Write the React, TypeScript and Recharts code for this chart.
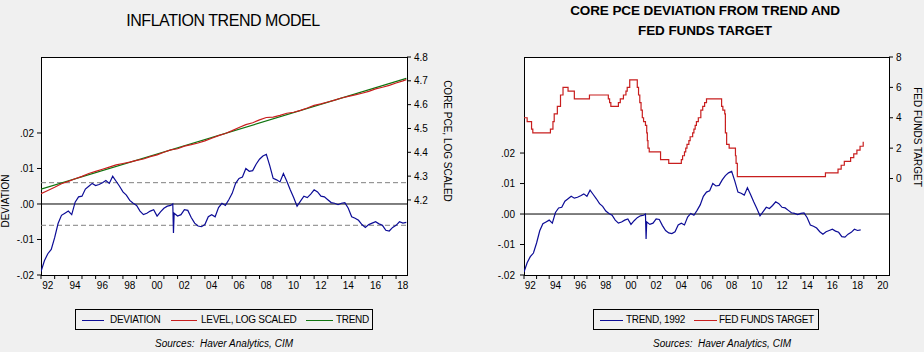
import { LineChart, Line, XAxis, YAxis, ReferenceLine } from 'recharts';

// deviation of core PCE from its 1992 trend (quarterly reading)
const devYears = [
  1992.0, 1992.25, 1992.5, 1992.75, 1993.0, 1993.25, 1993.5, 1993.75,
  1994.0, 1994.25, 1994.5, 1994.75, 1995.0, 1995.25, 1995.5, 1995.75,
  1996.0, 1996.25, 1996.5, 1996.75, 1997.0, 1997.25, 1997.5, 1997.75,
  1998.0, 1998.25, 1998.5, 1998.75, 1999.0, 1999.25, 1999.5, 1999.75,
  2000.0, 2000.25, 2000.5, 2000.75, 2001.0, 2001.25, 2001.5, 2001.65,
  2001.7, 2001.75, 2002.0, 2002.25, 2002.5, 2002.75, 2003.0, 2003.25,
  2003.5, 2003.75, 2004.0, 2004.25, 2004.5, 2004.75, 2005.0, 2005.25,
  2005.5, 2005.75, 2006.0, 2006.25, 2006.5, 2006.75, 2007.0, 2007.25,
  2007.5, 2007.75, 2008.0, 2008.25, 2008.5, 2008.75, 2009.0, 2009.25,
  2009.5, 2009.75, 2010.0, 2010.25, 2010.5, 2010.75, 2011.0, 2011.25,
  2011.5, 2011.75, 2012.0, 2012.25, 2012.5, 2012.75, 2013.0, 2013.25,
  2013.5, 2013.75, 2014.0, 2014.25, 2014.5, 2014.75, 2015.0, 2015.25,
  2015.5, 2015.75, 2016.0, 2016.25, 2016.5, 2016.75, 2017.0, 2017.25,
  2017.5, 2017.75, 2018.0, 2018.25, 2018.5, 2018.75,
];
const devValues = [
  -0.019, -0.016, -0.014, -0.0128, -0.0095, -0.0055, -0.0032, -0.0026,
  -0.002, -0.003, 0.0005, 0.002, 0.0022, 0.0042, 0.005, 0.0058,
  0.0052, 0.0055, 0.006, 0.0066, 0.0058, 0.0078, 0.0064, 0.005,
  0.0034, 0.0025, 0.001, 0.0002, -0.0004, -0.002, -0.003, -0.0026,
  -0.002, -0.0016, -0.0034, -0.0022, -0.0012, -0.0006, -0.0004, 0.0,
  -0.0082, -0.0026, -0.0034, -0.003, -0.0016, -0.0018, -0.0038, -0.0054,
  -0.0062, -0.0064, -0.0058, -0.0036, -0.003, -0.0036, -0.001, 0.0002,
  -0.0004, 0.0012, 0.003, 0.0058, 0.0072, 0.0076, 0.01, 0.0092,
  0.0094, 0.0112, 0.0126, 0.0135, 0.014, 0.0108, 0.0072, 0.0068,
  0.0062, 0.0086, 0.0064, 0.004, 0.0018, -0.0006, 0.0008, 0.0022,
  0.0018, 0.0028, 0.004, 0.0034, 0.0022, 0.002, 0.0012, 0.0004,
  0.0002, -0.0002, 0.0002, 0.0004, -0.0012, -0.0036, -0.004, -0.0046,
  -0.0058, -0.0066, -0.0058, -0.0054, -0.005, -0.0056, -0.006, -0.0074,
  -0.0076, -0.0066, -0.006, -0.005, -0.0054, -0.0052,
];

// core PCE, log scaled
const levelYears = [
  1992.0, 1992.5, 1993.0, 1993.5, 1994.0, 1994.5, 1995.0, 1995.5, 1996.0,
  1996.5, 1997.0, 1997.5, 1998.0, 1998.5, 1999.0, 1999.5, 2000.0, 2000.5,
  2001.0, 2001.5, 2002.0, 2002.5, 2003.0, 2003.5, 2004.0, 2004.5, 2005.0,
  2005.5, 2006.0, 2006.5, 2007.0, 2007.5, 2008.0, 2008.5, 2009.0, 2009.5,
  2010.0, 2010.5, 2011.0, 2011.5, 2012.0, 2012.5, 2013.0, 2013.5, 2014.0,
  2014.5, 2015.0, 2015.5, 2016.0, 2016.5, 2017.0, 2017.5, 2018.0, 2018.5,
  2018.75,
];
const levelValues = [
  4.226, 4.24, 4.253, 4.268, 4.278, 4.289, 4.299, 4.311, 4.32,
  4.329, 4.338, 4.347, 4.353, 4.359, 4.366, 4.372, 4.382, 4.389,
  4.4, 4.41, 4.415, 4.426, 4.432, 4.439, 4.448, 4.459, 4.47,
  4.479, 4.491, 4.504, 4.516, 4.524, 4.536, 4.546, 4.548, 4.555,
  4.564, 4.568, 4.576, 4.586, 4.597, 4.603, 4.611, 4.619, 4.628,
  4.635, 4.641, 4.648, 4.656, 4.666, 4.673, 4.681, 4.691, 4.7,
  4.705,
];

const trendYears = [1992.0, 2018.75];
const trendValues = [4.245, 4.71];

// fed funds target, dates of changes
const fedYears = [
  1992.0, 1992.25, 1992.6, 1992.7, 1994.1, 1994.3, 1994.4, 1994.65, 1994.9,
  1995.1, 1995.5, 1996.0, 1997.2, 1998.7, 1998.8, 1998.9, 1999.5, 1999.65,
  1999.9, 2000.1, 2000.2, 2000.4, 2001.0, 2001.1, 2001.2, 2001.3, 2001.4,
  2001.5, 2001.65, 2001.75, 2001.8, 2001.85, 2001.95, 2002.85, 2003.5, 2004.5,
  2004.6, 2004.75, 2004.85, 2004.95, 2005.1, 2005.2, 2005.4, 2005.5, 2005.6,
  2005.7, 2005.85, 2006.05, 2006.2, 2006.35, 2006.5, 2007.7, 2007.8, 2007.95,
  2008.0, 2008.1, 2008.3, 2008.8, 2008.85, 2008.95, 2015.95, 2016.95, 2017.2,
  2017.45, 2017.95, 2018.2, 2018.45, 2018.7, 2018.95, 2019.0,
];
const fedValues = [
  4.0, 3.75, 3.25, 3.0, 3.25, 3.75, 4.25, 4.75, 5.5,
  6.0, 5.75, 5.25, 5.5, 5.25, 5.0, 4.75, 5.0, 5.25,
  5.5, 5.75, 6.0, 6.5, 6.0, 5.5, 5.0, 4.5, 4.0,
  3.75, 3.5, 3.0, 2.5, 2.0, 1.75, 1.25, 1.0, 1.25,
  1.5, 1.75, 2.0, 2.25, 2.5, 2.75, 3.0, 3.25, 3.5,
  3.75, 4.0, 4.5, 4.75, 5.0, 5.25, 4.75, 4.5, 4.25,
  3.0, 2.25, 2.0, 1.5, 1.0, 0.125, 0.375, 0.625, 0.875,
  1.125, 1.375, 1.625, 1.875, 2.125, 2.375, 2.375,
];

const leftYears = [
  1992, 1993, 1994, 1995, 1996, 1997, 1998, 1999, 2000, 2001, 2002, 2003, 2004,
  2005, 2006, 2007, 2008, 2009, 2010, 2011, 2012, 2013, 2014, 2015, 2016, 2017, 2018,
];
const rightYears = [...leftYears, 2019, 2020];
const devTicks = [-0.02, -0.01, 0, 0.01, 0.02];
const levelTicks = [4.2, 4.3, 4.4, 4.5, 4.6, 4.7, 4.8];
const fedTicks = [0, 2, 4, 6, 8];

const devData = devYears.map((x, i) => ({ x, v: devValues[i] }));
const levelData = levelYears.map((x, i) => ({ x, v: levelValues[i] }));
const trendData = trendYears.map((x, i) => ({ x, v: trendValues[i] }));
const fedData = fedYears.map((x, i) => ({ x, v: fedValues[i] }));

const BLUE = '#0c0c96';
const RED = '#c81e1e';
const GREEN = '#0f740f';
const BG = '#f0f0f0';
const FONT = '"Liberation Sans", Arial, sans-serif';
const LW = 1.2;

const fmtDev = (v: number) => (v < -1e-9 ? '-' : '') + Math.abs(v).toFixed(2).slice(1);

const makeXTick = (half: number) => (props: any) => {
  const { x, y, payload } = props;
  if (payload.value % 2 !== 0) return <g />;
  return (
    <text x={x + half} y={y + 8} textAnchor="middle" fontSize={10} fill="#000">
      {String(payload.value).slice(2)}
    </text>
  );
};

const tickStyle = { fontSize: 10, fill: '#000' };

const abs = (left: number, top: number, extra: any = {}) => ({
  position: 'absolute' as const,
  left,
  top,
  ...extra,
});

const Frame = ({ left, top, width, height }: any) => (
  <div
    style={abs(left, top, {
      width,
      height,
      boxSizing: 'border-box',
      border: '1px solid #000',
      background: '#fff',
    })}
  />
);

const LegendItem = ({ x, w, tx, color, label }: any) => (
  <>
    <div style={abs(x, 10, { width: w, height: 1, background: color })} />
    <div style={abs(tx, 4, { fontSize: 10, lineHeight: '12px', letterSpacing: -0.3, whiteSpace: 'nowrap' })}>
      {label}
    </div>
  </>
);

const Sources = ({ center }: any) => (
  <div
    style={abs(center - 100, 338, {
      width: 200,
      textAlign: 'center',
      fontSize: 10,
      fontStyle: 'italic',
      lineHeight: '12px',
    })}
  >
    Sources:&nbsp; Haver Analytics, CIM
  </div>
);

const VLabel = ({ cx, cy, text, angle }: any) => (
  <div
    style={abs(cx - 100, cy - 6, {
      width: 200,
      height: 12,
      lineHeight: '12px',
      textAlign: 'center',
      fontSize: 10,
      transform: `rotate(${angle}deg)`,
      whiteSpace: 'nowrap',
    })}
  >
    {text}
  </div>
);

export default function App() {
  return (
    <div
      style={{
        position: 'absolute',
        left: 0,
        top: 0,
        width: 924,
        height: 352,
        background: BG,
        fontFamily: FONT,
        color: '#000',
        overflow: 'hidden',
      }}
    >
      {/* titles */}
      <div style={abs(123, 12, { width: 200, textAlign: 'center', fontSize: 16, letterSpacing: -0.45, whiteSpace: 'nowrap', lineHeight: '18px' })}>
        INFLATION TREND MODEL
      </div>
      <div style={abs(555, 1, { width: 300, textAlign: 'center', fontSize: 13.5, fontWeight: 'bold', lineHeight: '20px', letterSpacing: -0.1, whiteSpace: 'nowrap' })}>
        CORE PCE DEVIATION FROM TREND AND
        <br />
        FED FUNDS TARGET
      </div>

      <Frame left={41} top={57} width={367} height={219} />
      <Frame left={524} top={57} width={366} height={219} />

      {/* left chart */}
      <div style={abs(0, 0)}>
        <LineChart width={462} height={352} margin={{ top: 57, right: 0, bottom: 57, left: 0 }}>
          <XAxis
            type="number"
            dataKey="x"
            domain={[1992, 2018.8]}
            allowDataOverflow
            ticks={leftYears}
            interval={0}
            height={20}
            axisLine={false}
            tickLine={{ stroke: '#000' }}
            tickSize={4}
            tick={makeXTick(6.8)}
          />
          <YAxis
            yAxisId="dev"
            domain={[-0.02, 0.0414]}
            allowDataOverflow
            ticks={devTicks}
            interval={0}
            width={41}
            axisLine={false}
            tickLine={{ stroke: '#000' }}
            tickSize={4}
            tickMargin={3}
            tick={tickStyle}
            tickFormatter={fmtDev}
          />
          <YAxis
            yAxisId="lvl"
            orientation="right"
            domain={[3.885, 4.8]}
            allowDataOverflow
            ticks={levelTicks}
            interval={0}
            width={55}
            axisLine={false}
            tickLine={{ stroke: '#000' }}
            tickSize={4}
            tickMargin={3}
            tick={tickStyle}
            tickFormatter={(v: number) => v.toFixed(1)}
          />
          <ReferenceLine yAxisId="dev" y={0.006} stroke="#808080" strokeDasharray="5 3" />
          <ReferenceLine yAxisId="dev" y={-0.006} stroke="#808080" strokeDasharray="5 3" />
          <ReferenceLine yAxisId="dev" y={0} stroke="#000" />
          <Line yAxisId="lvl" data={trendData} dataKey="v" stroke={GREEN} dot={false} strokeWidth={LW} isAnimationActive={false} />
          <Line yAxisId="lvl" data={levelData} dataKey="v" stroke={RED} dot={false} strokeWidth={LW} isAnimationActive={false} />
          <Line yAxisId="dev" data={devData} dataKey="v" stroke={BLUE} dot={false} strokeWidth={LW} isAnimationActive={false} />
        </LineChart>
      </div>

      {/* right chart */}
      <div style={abs(462, 0)}>
        <LineChart width={462} height={352} margin={{ top: 57, right: 0, bottom: 57, left: 0 }}>
          <XAxis
            type="number"
            dataKey="x"
            domain={[1992, 2021]}
            allowDataOverflow
            ticks={rightYears}
            interval={0}
            height={20}
            axisLine={false}
            tickLine={{ stroke: '#000' }}
            tickSize={4}
            tick={makeXTick(6.3)}
          />
          <YAxis
            yAxisId="dev"
            domain={[-0.02, 0.0515]}
            allowDataOverflow
            ticks={devTicks}
            interval={0}
            width={62}
            axisLine={false}
            tickLine={{ stroke: '#000' }}
            tickSize={4}
            tickMargin={5}
            tick={tickStyle}
            tickFormatter={fmtDev}
          />
          <YAxis
            yAxisId="fed"
            orientation="right"
            domain={[-6.35, 8]}
            allowDataOverflow
            ticks={fedTicks}
            interval={0}
            width={35}
            axisLine={false}
            tickLine={{ stroke: '#000' }}
            tickSize={4}
            tickMargin={3}
            tick={tickStyle}
          />
          <ReferenceLine yAxisId="dev" y={0} stroke="#000" />
          <Line yAxisId="fed" type="stepAfter" data={fedData} dataKey="v" stroke={RED} dot={false} strokeWidth={LW} isAnimationActive={false} />
          <Line yAxisId="dev" data={devData} dataKey="v" stroke={BLUE} dot={false} strokeWidth={LW} isAnimationActive={false} />
        </LineChart>
      </div>

      {/* axis titles */}
      <VLabel cx={6} cy={201} text="DEVIATION" angle={-90} />
      <VLabel cx={447} cy={141} text="CORE PCE, LOG SCALED" angle={90} />
      <VLabel cx={917} cy={137} text="FED FUNDS TARGET" angle={90} />

      {/* legends */}
      <div style={abs(75, 309, { width: 298, height: 21, boxSizing: 'border-box', border: '1px solid #000' })}>
        <LegendItem x={6} w={22} tx={34} color={BLUE} label="DEVIATION" />
        <LegendItem x={95} w={26} tx={125} color={RED} label="LEVEL, LOG SCALED" />
        <LegendItem x={230} w={27} tx={260} color={GREEN} label="TREND" />
      </div>
      <div style={abs(593, 309, { width: 226, height: 21, boxSizing: 'border-box', border: '1px solid #000' })}>
        <LegendItem x={6} w={23} tx={32} color={BLUE} label="TREND, 1992" />
        <LegendItem x={100} w={23} tx={125} color={RED} label="FED FUNDS TARGET" />
      </div>

      <Sources center={224} />
      <Sources center={722} />
    </div>
  );
}
